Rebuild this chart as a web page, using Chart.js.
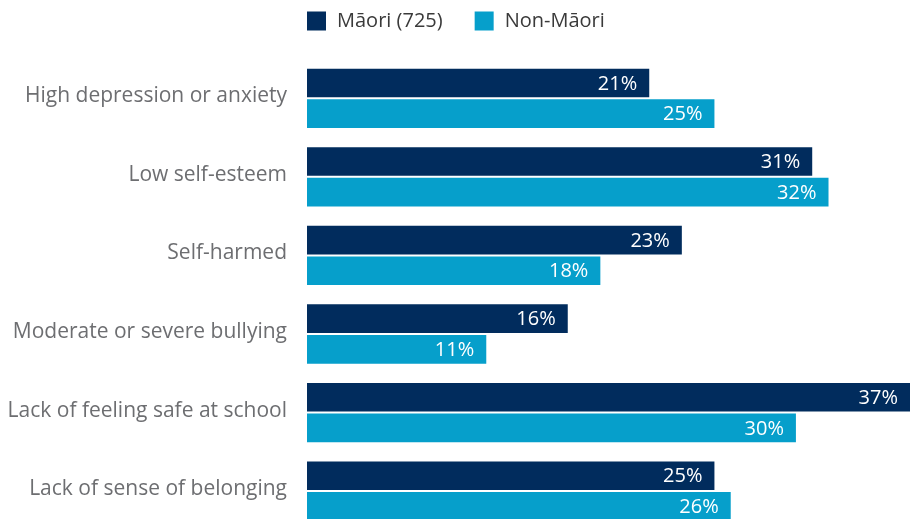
<!DOCTYPE html>
<html>
<head>
<meta charset="utf-8">
<script src="https://cdn.jsdelivr.net/npm/chart.js@4.4.1/dist/chart.umd.min.js"></script>
<style>
  html, body { margin: 0; padding: 0; background: #ffffff; overflow: hidden; }
  canvas { display: block; }
</style>
</head>
<body>
<canvas id="chart" width="912" height="563"></canvas>
<script>
// Indicators and percentages for each group
const categories = [
  'High depression or anxiety',
  'Low self-esteem',
  'Self-harmed',
  'Moderate or severe bullying',
  'Lack of feeling safe at school',
  'Lack of sense of belonging'
];
const seriesNames = ['Māori (725)', 'Non-Māori'];
const maoriValues = [21, 31, 23, 16, 37, 25];
const nonMaoriValues = [25, 32, 18, 11, 30, 26];

const NAVY = '#012c5d';
const CYAN = '#069fcb';
const FONT = "'Open Sans', sans-serif";

// White percentage labels drawn inside the end of each bar
const valueLabels = {
  id: 'valueLabels',
  afterDatasetsDraw(chart) {
    const ctx = chart.ctx;
    ctx.save();
    ctx.font = '20px ' + FONT;
    ctx.fillStyle = '#ffffff';
    ctx.textAlign = 'right';
    ctx.textBaseline = 'middle';
    chart.data.datasets.forEach((ds, i) => {
      chart.getDatasetMeta(i).data.forEach((bar, j) => {
        ctx.fillText(ds.data[j] + '%', bar.x - 12, bar.y + 1);
      });
    });
    ctx.restore();
  }
};

// Legend laid out from the left edge of the plot area
const topLegend = {
  id: 'topLegend',
  afterDraw(chart) {
    const ctx = chart.ctx;
    const left = chart.chartArea.left;
    ctx.save();
    ctx.font = '20px ' + FONT;
    ctx.textBaseline = 'middle';
    ctx.textAlign = 'left';
    let x = left;
    const y = 21;
    chart.data.datasets.forEach((ds) => {
      ctx.fillStyle = ds.backgroundColor;
      ctx.fillRect(x, y - 9.5, 19, 19);
      ctx.fillStyle = '#3a3a3a';
      ctx.fillText(ds.label, x + 30, y);
      x += 30 + ctx.measureText(ds.label).width + 32;
    });
    ctx.restore();
  }
};

new Chart(document.getElementById('chart'), {
  type: 'bar',
  data: {
    labels: categories,
    datasets: [
      { label: seriesNames[0], data: maoriValues, backgroundColor: NAVY },
      { label: seriesNames[1], data: nonMaoriValues, backgroundColor: CYAN }
    ]
  },
  options: {
    indexAxis: 'y',
    responsive: false,
    animation: false,
    layout: { padding: { top: 59, right: 2, bottom: 0, left: 0 } },
    datasets: { bar: { categoryPercentage: 0.78, barPercentage: 0.935 } },
    plugins: { legend: { display: false }, tooltip: { enabled: false } },
    scales: {
      x: { display: false, min: 0, max: 37 },
      y: {
        grid: { display: false, drawTicks: false },
        border: { display: false },
        afterFit(scale) { scale.width = 307; },
        ticks: {
          color: '#6d6e71',
          font: { family: FONT, size: 21 },
          padding: 20,
          labelOffset: -2
        }
      }
    }
  },
  plugins: [valueLabels, topLegend]
});
</script>
</body>
</html>
